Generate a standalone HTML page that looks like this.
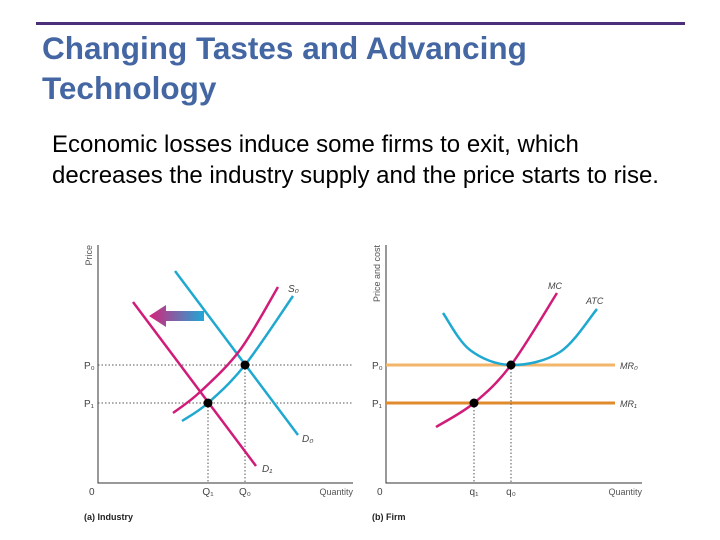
<!DOCTYPE html>
<html><head><meta charset="utf-8"><style>
body{margin:0;width:720px;height:540px;background:#fff;position:relative;overflow:hidden;font-family:"Liberation Sans",sans-serif}
.t{position:absolute;left:42px;top:28px;font-size:31.5px;font-weight:bold;color:#4467a3;line-height:40px}
.b{position:absolute;left:52px;top:129px;font-size:24px;color:#000;line-height:31px}
svg{position:absolute;left:0;top:0}
</style></head><body>
<div style="position:absolute;left:36px;top:22px;width:649px;height:3px;background:#4b2f7a"></div>
<div class="t">Changing Tastes and Advancing<br>Technology</div>
<div class="b">Economic losses induce some firms to exit, which<br>decreases the industry supply and the price starts to rise.</div>
<svg width="720" height="540" font-family="Liberation Sans, sans-serif">
<defs><linearGradient id="g" x1="0" x2="1"><stop offset="0" stop-color="#d6237a"/><stop offset="1" stop-color="#1fa8d8"/></linearGradient></defs>
<g id="L"></g>
<g id="R"></g>
</svg>
<script>
// Industry
const prices=[365,403]; // P0,P1 pixel-mapped price levels
const indQ=[245,208]; // Q0,Q1
const D0=[[175,271],[298,435]];
const D1=[[133,302],[256,466]];
const S0=[[182,421],[208,403],[245,365],[293,296]];
const S1=[[173,413],[200,392],[240,350],[278,287]];
// Firm
const firmQ=[511,474];
const ATC=[[443,313],[470,350],[511,365],[560,352],[597,309]];
const MC=[[436,427],[474,403],[511,365],[557,293]];
const NS='http://www.w3.org/2000/svg';
function el(p,t,a,txt){const e=document.createElementNS(NS,t);for(const k in a)e.setAttribute(k,a[k]);if(txt!=null)e.textContent=txt;p.appendChild(e);return e;}
function smooth(pts){let d='M'+pts[0][0]+','+pts[0][1];for(let i=1;i<pts.length;i++){const p0=pts[i-1],p1=pts[i];const pm=pts[i-2]||p0,pn=pts[i+1]||p1;const c1=[p0[0]+(p1[0]-pm[0])/6,p0[1]+(p1[1]-pm[1])/6],c2=[p1[0]-(pn[0]-p0[0])/6,p1[1]-(pn[1]-p0[1])/6];d+=' C'+c1+' '+c2+' '+p1;}return d;}
const L=document.getElementById('L'),R=document.getElementById('R');
function axes(g,x0,x1,yl,lbl){
 const a=el(g,'path',{d:`M${x0},245 V483 H${x1}`,fill:'none',stroke:'#333','stroke-width':1});
 
 const t=el(g,'text',{x:0,y:0,'font-size':9,fill:'#555',transform:`translate(${x0-6},${yl}) rotate(-90)`,'text-anchor':'end'},lbl);
 
 const q=el(g,'text',{x:x1,y:495,'font-size':9,fill:'#555','text-anchor':'end'},'Quantity');
 
 const o=el(g,'text',{x:x0-9,y:495,'font-size':10,fill:'#444'},'0');
 
}
axes(L,98,353,245,'Price');axes(R,386,642,245,'Price and cost');
['P₀','P₁'].forEach((s,i)=>{const l=el(L,'line',{x1:98,x2:353,y1:prices[i],y2:prices[i],stroke:'#555','stroke-dasharray':'1.5,2','stroke-width':1});
 const t=el(L,'text',{x:84,y:prices[i]+4,'font-size':10,fill:'#444'},s);});
['Q₀','Q₁'].forEach((s,i)=>{const l=el(L,'line',{x1:indQ[i],x2:indQ[i],y1:prices[i],y2:483,stroke:'#555','stroke-dasharray':'1.5,2'});
 const t=el(L,'text',{x:indQ[i],y:495,'font-size':10,fill:'#444','text-anchor':'middle'},s);});
function curve(g,pts,col,name){const p=el(g,'path',{d:smooth(pts),fill:'none',stroke:col,'stroke-width':2.5});}
curve(L,D0,'#1fa8d0','demand-d0');curve(L,D1,'#d01c78','demand-d1');curve(L,S0,'#1fa8d0','supply-s0');curve(L,S1,'#d01c78','supply-s1');
const ar=el(L,'path',{d:'M204,311 H166 V305 L149,316 L166,327 V321 H204 Z',fill:'url(#g)'});
[['S₀',288,292],['D₀',302,442],['D₁',262,472]].forEach(a=>{const t=el(L,'text',{x:a[1],y:a[2],'font-size':10,'font-style':'italic',fill:'#444'},a[0]);});
[[indQ[0],prices[0]],[indQ[1],prices[1]]].forEach(p=>{const c=el(L,'circle',{cx:p[0],cy:p[1],r:4.5,fill:'#000'});});
const t1=el(L,'text',{x:84,y:520,'font-size':9,'font-weight':'bold',fill:'#222'},'(a) Industry');
const mrc=['#f2b56a','#e08a2e'];
['MR₀','MR₁'].forEach((s,i)=>{const l=el(R,'line',{x1:386,x2:615,y1:prices[i],y2:prices[i],stroke:mrc[i],'stroke-width':3});
 const t=el(R,'text',{x:620,y:prices[i]+4,'font-size':9,'font-style':'italic',fill:'#444'},s);
 const p=el(R,'text',{x:372,y:prices[i]+4,'font-size':10,fill:'#444'},['P₀','P₁'][i]);});
['q₀','q₁'].forEach((s,i)=>{const l=el(R,'line',{x1:firmQ[i],x2:firmQ[i],y1:prices[i],y2:483,stroke:'#555','stroke-dasharray':'1.5,2'});
 const t=el(R,'text',{x:firmQ[i],y:495,'font-size':10,fill:'#444','text-anchor':'middle'},s);});
curve(R,ATC,'#1fa8d0','atc-curve');curve(R,MC,'#d01c78','mc-curve');
[['MC',548,289],['ATC',586,304]].forEach(a=>{const t=el(R,'text',{x:a[1],y:a[2],'font-size':9,'font-style':'italic',fill:'#444'},a[0]);});
[[firmQ[0],prices[0]],[firmQ[1],prices[1]]].forEach(p=>{const c=el(R,'circle',{cx:p[0],cy:p[1],r:4.5,fill:'#000'});});
const t2=el(R,'text',{x:372,y:520,'font-size':9,'font-weight':'bold',fill:'#222'},'(b) Firm');
</script>
</body></html>
